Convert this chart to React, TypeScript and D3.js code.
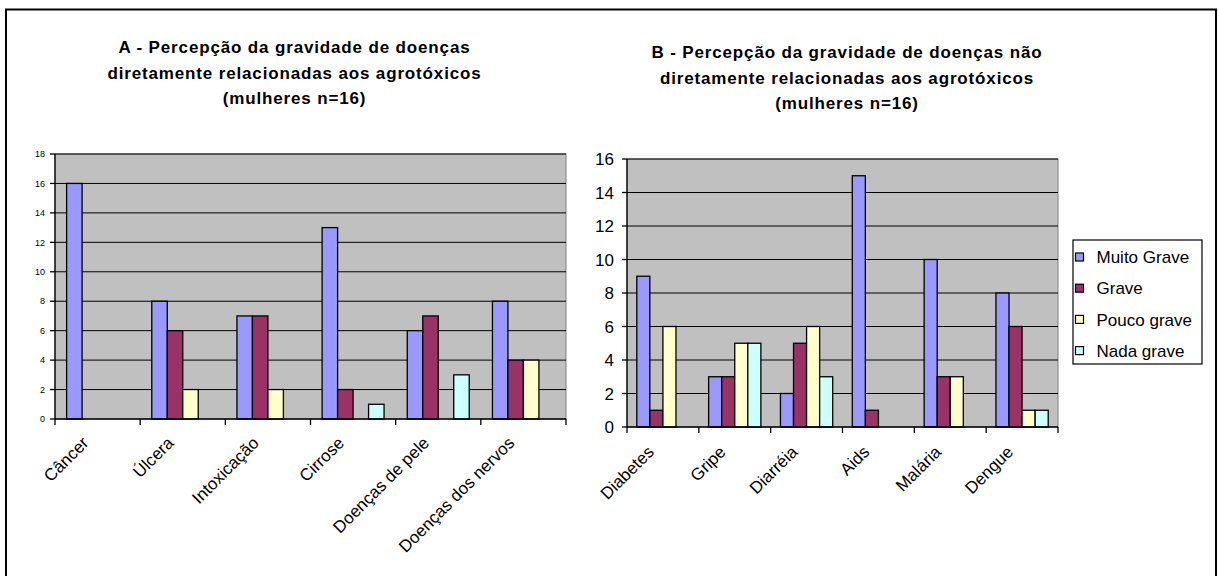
import React from "react";
import * as d3 from "d3";

const seriesNames = ["Muito Grave", "Grave", "Pouco grave", "Nada grave"];
const seriesColors = ["#9999FF", "#993366", "#FFFFCC", "#CCFFFF"];

const catsA = ["Câncer", "Úlcera", "Intoxicação", "Cirrose", "Doenças de pele", "Doenças dos nervos"];
const muitoGraveA = [16, 8, 7, 13, 6, 8];
const graveA = [0, 6, 7, 2, 7, 4];
const poucoGraveA = [0, 2, 2, 0, 0, 4];
const nadaGraveA = [0, 0, 0, 1, 3, 0];
const ticksA = [0, 2, 4, 6, 8, 10, 12, 14, 16, 18];
const titleA = [
  "A - Percepção da gravidade de doenças",
  "diretamente relacionadas aos agrotóxicos",
  "(mulheres n=16)",
];

const catsB = ["Diabetes", "Gripe", "Diarréia", "Aids", "Malária", "Dengue"];
const muitoGraveB = [9, 3, 2, 15, 10, 8];
const graveB = [1, 3, 5, 1, 3, 6];
const poucoGraveB = [6, 5, 6, 0, 3, 1];
const nadaGraveB = [0, 5, 3, 0, 0, 1];
const ticksB = [0, 2, 4, 6, 8, 10, 12, 14, 16];
const titleB = [
  "B - Percepção da gravidade de doenças não",
  "diretamente relacionadas aos agrotóxicos",
  "(mulheres n=16)",
];

const FONT = "'Liberation Sans', Arial, sans-serif";

type PanelProps = {
  cats: string[];
  series: number[][];
  ticks: number[];
  yMax: number;
  x0: number;
  x1: number;
  yTop: number;
  yBottom: number;
  tickFont: number;
  tickLabelX: number;
  title: string[];
  titleX: number;
  titleY: number;
  labelDx: number;
  labelDy: number;
};

function Panel(p: PanelProps) {
  const y = d3.scaleLinear().domain([0, p.yMax]).range([p.yBottom, p.yTop]);
  const x = d3.scaleBand<string>().domain(p.cats).range([p.x0, p.x1]).padding(0);
  const inner = d3
    .scaleBand<string>()
    .domain(seriesNames)
    .range([0, x.bandwidth()])
    .paddingInner(0)
    .paddingOuter(0.75);
  const boundaries = p.cats.map((c) => x(c) as number).concat([p.x1]);
  return (
    <g>
      {p.title.map((t, i) => (
        <text
          key={i}
          x={p.titleX}
          y={p.titleY + i * 25.3}
          textAnchor="middle"
          fontFamily={FONT}
          fontWeight="bold"
          fontSize={17}
          letterSpacing={0.85}
          fill="#000"
        >
          {t}
        </text>
      ))}
      <rect x={p.x0} y={p.yTop} width={p.x1 - p.x0} height={p.yBottom - p.yTop} fill="#C0C0C0" stroke="#808080" strokeWidth={1} />
      {p.ticks.slice(1).map((t) => (
        <line key={t} x1={p.x0} x2={p.x1} y1={y(t)} y2={y(t)} stroke="#000" strokeWidth={1} />
      ))}
      {p.cats.map((c, ci) =>
        p.series.map((s, si) =>
          s[ci] > 0 ? (
            <rect
              key={c + si}
              x={(x(c) as number) + (inner(seriesNames[si]) as number)}
              y={y(s[ci])}
              width={inner.bandwidth()}
              height={p.yBottom - y(s[ci])}
              fill={seriesColors[si]}
              stroke="#000"
              strokeWidth={1.3}
            />
          ) : null
        )
      )}
      <line x1={p.x0} x2={p.x0} y1={p.yTop} y2={p.yBottom} stroke="#000" strokeWidth={1.3} />
      <line x1={p.x0} x2={p.x1} y1={p.yBottom} y2={p.yBottom} stroke="#000" strokeWidth={1.3} />
      {p.ticks.map((t) => (
        <g key={t}>
          <line x1={p.x0 - 5} x2={p.x0} y1={y(t)} y2={y(t)} stroke="#000" strokeWidth={1.3} />
          <text
            x={p.tickLabelX}
            y={y(t)}
            dy="0.36em"
            textAnchor="end"
            fontFamily={FONT}
            fontSize={p.tickFont}
            fill="#000"
          >
            {t}
          </text>
        </g>
      ))}
      {boundaries.map((bx, i) => (
        <line key={i} x1={bx} x2={bx} y1={p.yBottom} y2={p.yBottom + 6} stroke="#000" strokeWidth={1.3} />
      ))}
      {p.cats.map((c) => {
        const cx = (x(c) as number) + x.bandwidth() / 2 + p.labelDx;
        const cy = p.yBottom + p.labelDy;
        return (
          <text
            key={c}
            transform={`translate(${cx},${cy}) rotate(-45)`}
            textAnchor="end"
            fontFamily={FONT}
            fontSize={17}
            fill="#000"
          >
            {c}
          </text>
        );
      })}
    </g>
  );
}

export default function App() {
  const seriesA = [muitoGraveA, graveA, poucoGraveA, nadaGraveA];
  const seriesB = [muitoGraveB, graveB, poucoGraveB, nadaGraveB];
  const legendY0 = 257;
  const legendStep = 31.2;
  return (
    <div style={{ position: "fixed", left: 0, top: 0 }}>
      <svg width={1219} height={576} style={{ display: "block", background: "#fff" }}>
        <rect x={6} y={9.5} width={1210} height={600} fill="#fff" stroke="#000" strokeWidth={2} />
        <Panel
          cats={catsA}
          series={seriesA}
          ticks={ticksA}
          yMax={18}
          x0={55}
          x1={566}
          yTop={154}
          yBottom={419}
          tickFont={9}
          tickLabelX={45}
          title={titleA}
          titleX={294.5}
          titleY={53.3}
          labelDx={-8}
          labelDy={25}
        />
        <Panel
          cats={catsB}
          series={seriesB}
          ticks={ticksB}
          yMax={16}
          x0={627}
          x1={1058}
          yTop={159}
          yBottom={427}
          tickFont={17}
          tickLabelX={614}
          title={titleB}
          titleX={847}
          titleY={58.3}
          labelDx={-8}
          labelDy={26}
        />
        <g>
          <rect x={1073} y={240} width={129} height={124} fill="#fff" stroke="#000" strokeWidth={1.2} />
          {seriesNames.map((n, i) => (
            <g key={n}>
              <rect
                x={1075.5}
                y={legendY0 + i * legendStep - 4}
                width={8}
                height={8}
                fill={seriesColors[i]}
                stroke="#000"
                strokeWidth={1.2}
              />
              <text
                x={1096.5}
                y={legendY0 + i * legendStep}
                dy="0.36em"
                fontFamily={FONT}
                fontSize={17}
                fill="#000"
              >
                {n}
              </text>
            </g>
          ))}
        </g>
      </svg>
    </div>
  );
}
